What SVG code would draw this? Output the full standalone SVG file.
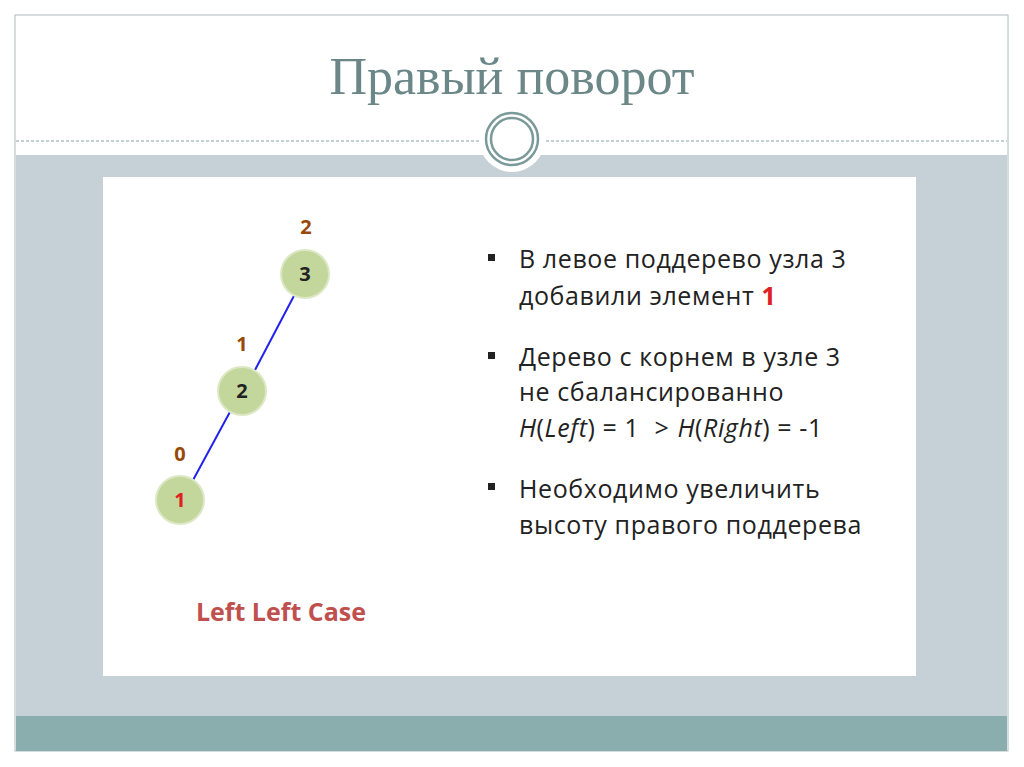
<svg xmlns="http://www.w3.org/2000/svg" width="1024" height="767" viewBox="0 0 1024 767">
<style>
.node circle{fill:#c3d69b;stroke:#dce8c4;stroke-width:2}
.nl{font-family:"Open Sans","DejaVu Sans",sans-serif;font-weight:bold;font-size:20px;text-anchor:middle}
.h{font-family:"Open Sans","DejaVu Sans",sans-serif;font-weight:bold;font-size:20px;fill:#984807;text-anchor:middle}
.t{font-family:"Open Sans","DejaVu Sans",sans-serif;font-size:25px;letter-spacing:0.6px;fill:#222}
</style>
<rect width="1024" height="767" fill="#fff"/>
<rect x="15" y="15" width="993" height="736" fill="#fff" stroke="#b0bcc0" stroke-width="1"/>
<rect x="16" y="155" width="991" height="561" fill="#c6d1d7"/>
<rect x="16" y="716" width="991" height="35" fill="#8aadad"/>
<line x1="16" y1="141" x2="1007" y2="141" stroke="#8aa0a0" stroke-dasharray="3,2"/>
<circle cx="512" cy="139" r="33" fill="#fff"/>
<circle cx="512" cy="139" r="26" fill="none" stroke="#7a9a9a" stroke-width="2.5"/>
<circle cx="512" cy="139" r="21" fill="none" stroke="#7a9a9a" stroke-width="2.5"/>
<text x="512" y="94" font-family="Liberation Serif,serif" font-size="52" fill="#6b8787" text-anchor="middle">Правый поворот</text>
<rect x="103" y="177" width="813" height="499" fill="#fff"/>
<g id="connectors" stroke="#2222ee" stroke-width="2">
<line x1="296" y1="292" x2="255" y2="370"/>
<line x1="231" y1="410" x2="192" y2="482"/>
</g>
<g id="node3" class="node"><circle cx="305" cy="274" r="24"/><text class="nl" x="305" y="281" fill="#222">3</text></g>
<g id="node2" class="node"><circle cx="242" cy="391" r="24"/><text class="nl" x="242" y="398" fill="#222">2</text></g>
<g id="node1" class="node"><circle cx="180" cy="500" r="24"/><text class="nl" x="180" y="507" fill="#e02020">1</text></g>
<text class="h" x="306" y="234">2</text>
<text class="h" x="242" y="351">1</text>
<text class="h" x="180" y="461">0</text>
<text x="281" y="621" font-family="'Open Sans','DejaVu Sans',sans-serif" font-weight="bold" font-size="25" fill="#c0504d" text-anchor="middle">Left Left Case</text>
<g fill="#222"><rect x="488" y="254" width="7" height="7"/><rect x="488" y="352" width="7" height="7"/><rect x="488" y="483" width="7" height="7"/></g>
<text class="t" x="519" y="268">В левое поддерево узла 3</text>
<text class="t" x="519" y="305">добавили элемент <tspan fill="#e02020" font-weight="bold">1</tspan></text>
<text class="t" x="519" y="366">Дерево с корнем в узле 3</text>
<text class="t" x="519" y="401">не сбалансированно</text>
<text class="t" x="519" y="437"><tspan font-style="italic">H</tspan>(<tspan font-style="italic">Left</tspan>) = 1 <tspan dx="8">&gt;</tspan><tspan dx="8" font-style="italic">H</tspan>(<tspan font-style="italic">Right</tspan>) = -1</text>
<text class="t" x="519" y="498">Необходимо увеличить</text>
<text class="t" x="519" y="534">высоту правого поддерева</text>
</svg>
